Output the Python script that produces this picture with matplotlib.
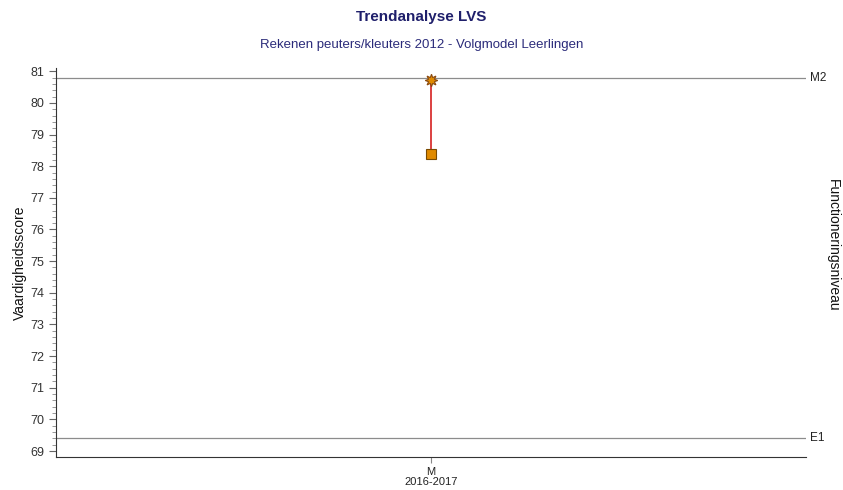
import matplotlib
matplotlib.use("Agg")
import matplotlib.pyplot as plt
from matplotlib.ticker import MultipleLocator

plt.rcParams['font.family'] = ['Liberation Sans', 'DejaVu Sans']

# data
periods = ['M\n2016-2017']
scores_start = [78.38]
scores_end = [80.72]
levels = ['M2', 'E1']
level_values = [80.78, 69.41]

fig = plt.figure(figsize=(8.43, 4.9), dpi=100)
ax = fig.add_axes([0.0664, 0.0673, 0.8897, 0.7937])

x = range(len(periods))
ax.set_xlim(-0.5, len(periods) - 0.5)
ax.set_ylim(68.81, 81.1)

for lv, val in zip(levels, level_values):
    ax.axhline(val, color='#8c8c8c', lw=0.9, zorder=1)
    ax.text(1.006, val, lv, transform=ax.get_yaxis_transform(), va='center',
            ha='left', fontsize=8.5, color='#222222')

for xi, s0, s1 in zip(x, scores_start, scores_end):
    ax.plot([xi, xi], [s0, s1], color='#d62020', lw=1.2, zorder=2)
ax.plot(list(x), scores_start, ls='none', marker='s', ms=7, mfc='#e08a00',
        mec='#7a4a00', mew=0.8, zorder=3)
ax.plot(list(x), scores_end, ls='none', marker=(8, 1, 0), ms=9, mfc='#e08a00',
        mec='#8a4a10', mew=0.8, zorder=3)

ax.set_xticks(list(x))
ax.set_xticklabels(periods, fontsize=8, color='#222222', linespacing=1.05)
ax.yaxis.set_major_locator(MultipleLocator(1))
ax.yaxis.set_minor_locator(MultipleLocator(0.2))
ax.tick_params(axis='y', which='major', length=5, color='#666666',
               labelsize=9, labelcolor='#333333')
ax.tick_params(axis='y', which='minor', length=3, color='#888888')
ax.tick_params(axis='x', length=4, color='#888888', pad=3)

for side in ['top', 'right']:
    ax.spines[side].set_visible(False)
ax.spines['left'].set_color('#333333')
ax.spines['bottom'].set_color('#333333')

ax.set_ylabel('Vaardigheidsscore', fontsize=10, color='#111111')
ax.yaxis.set_label_coords(-0.039, 0.5)
fig.text(0.988, 0.5, 'Functioneringsniveau', rotation=-90, va='center',
         ha='center', fontsize=10, color='#111111')

fig.text(0.5, 0.966, 'Trendanalyse LVS', ha='center', va='center',
         fontsize=11, fontweight='bold', color='#1f1f6b')
fig.text(0.5, 0.909, 'Rekenen peuters/kleuters 2012 - Volgmodel Leerlingen',
         ha='center', va='center', fontsize=9.5, color='#2b2b7a')

fig.savefig('out.png', dpi=100)
